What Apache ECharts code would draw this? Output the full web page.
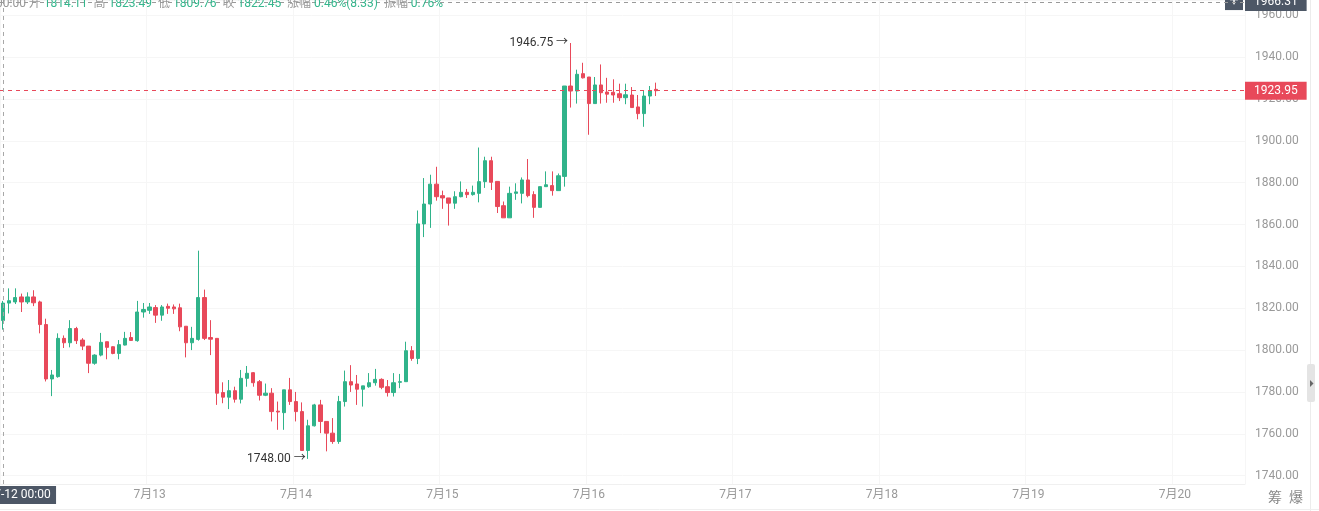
<!DOCTYPE html>
<html><head><meta charset="utf-8">
<script src="https://cdn.jsdelivr.net/npm/echarts@6/dist/echarts.min.js"></script>
<style>html,body{margin:0;padding:0;background:#fff;overflow:hidden}#c{width:1319px;height:511px}</style>
</head><body><div id="c"></div>
<script>
// ---- data ----
const dayLabels = ['7月12','7月13','7月14','7月15','7月16','7月17','7月18','7月19','7月20'];
const dayDates  = ['07-12','07-13','07-14','07-15','07-16','07-17','07-18','07-19','07-20'];
const totalHours = 204; // visible hourly slots on the time axis
// [open, close, low, high], hourly from 07-12 00:00
const candles = [
[1814.11,1822.45,1809.76,1823.49],[1822.45,1823.6,1817.5,1829.5],[1823.0,1825.1,1822.0,1829.5],[1825.4,1823.0,1818.2,1827.0],
[1823.0,1825.4,1822.0,1827.6],[1825.4,1822.6,1821.0,1828.6],[1823.0,1812.2,1808.0,1823.6],[1812.2,1786.2,1785.0,1815.0],
[1786.2,1788.1,1778.0,1790.5],[1787.3,1805.6,1786.8,1808.0],[1805.6,1803.5,1801.0,1807.0],[1803.5,1810.3,1801.3,1814.3],
[1810.3,1804.5,1802.9,1811.1],[1804.8,1801.9,1800.0,1805.7],[1801.9,1793.7,1789.0,1801.9],[1793.7,1797.6,1793.0,1798.0],
[1797.6,1803.7,1797.0,1808.2],[1804.0,1801.3,1795.6,1804.0],[1801.6,1798.4,1798.0,1801.8],[1798.4,1802.6,1795.6,1804.8],
[1802.4,1805.6,1802.2,1808.7],[1806.0,1804.6,1804.4,1808.6],[1804.5,1818.2,1804.0,1823.5],[1818.2,1819.4,1815.5,1822.5],
[1819.0,1820.6,1817.3,1822.5],[1820.3,1816.7,1813.0,1821.5],[1816.7,1820.6,1814.0,1821.5],[1820.9,1820.0,1817.3,1822.2],
[1820.6,1819.7,1817.3,1821.8],[1820.2,1811.1,1809.0,1822.2],[1811.4,1803.5,1796.5,1811.4],[1803.5,1805.6,1800.0,1811.1],
[1805.1,1825.1,1804.5,1847.5],[1825.1,1805.6,1804.8,1828.9],[1806.0,1805.2,1797.6,1814.3],[1805.6,1779.4,1773.8,1805.6],
[1779.7,1777.5,1774.6,1784.6],[1777.5,1780.6,1771.8,1785.7],[1780.6,1776.5,1774.9,1782.5],[1776.5,1786.5,1774.5,1790.5],
[1786.5,1788.9,1782.5,1792.4],[1789.2,1784.4,1782.5,1789.5],[1784.9,1778.4,1775.9,1785.7],[1778.4,1779.4,1778.0,1784.0],
[1779.4,1770.6,1765.9,1781.8],[1770.8,1770.4,1761.9,1775.4],[1770.1,1781.0,1761.9,1781.0],[1781.0,1775.4,1773.8,1786.7],
[1775.4,1770.6,1765.9,1780.0],[1770.6,1752.0,1752.0,1775.0],[1752.0,1763.8,1748.0,1766.7],[1763.8,1773.8,1763.5,1774.3],
[1773.8,1765.9,1760.3,1776.2],[1765.9,1760.3,1751.6,1765.9],[1760.3,1756.3,1755.2,1767.5],[1756.3,1775.4,1755.2,1778.1],
[1775.4,1784.9,1773.0,1790.2],[1784.9,1783.3,1780.0,1792.8],[1783.8,1781.3,1773.8,1788.1],[1781.3,1782.9,1773.0,1782.9],
[1782.5,1784.4,1782.0,1789.0],[1784.4,1786.0,1783.0,1791.0],[1786.0,1782.2,1781.3,1786.5],[1782.5,1779.7,1777.8,1785.7],
[1779.7,1784.4,1777.8,1789.0],[1784.6,1784.9,1781.8,1788.6],[1784.9,1799.7,1784.9,1804.0],[1799.7,1796.0,1794.9,1801.9],
[1796.0,1860.3,1793.3,1866.7],[1860.3,1869.8,1854.0,1882.2],[1869.8,1879.3,1858.4,1883.8],[1879.3,1873.3,1871.4,1887.6],
[1873.8,1872.7,1867.5,1876.2],[1872.7,1870.2,1859.5,1872.7],[1870.2,1873.3,1867.5,1875.9],[1873.3,1875.4,1873.0,1880.6],
[1875.4,1874.3,1872.7,1877.0],[1874.3,1875.4,1873.8,1878.6],[1874.9,1880.5,1870.6,1896.8],[1880.5,1890.5,1877.5,1892.4],
[1890.5,1880.2,1876.5,1892.4],[1880.6,1868.6,1865.5,1880.6],[1869.0,1863.2,1863.2,1871.0],[1863.2,1874.9,1863.2,1878.1],
[1874.9,1875.6,1871.8,1879.7],[1874.9,1881.3,1870.1,1882.5],[1881.3,1873.8,1873.0,1891.3],[1874.3,1868.2,1863.2,1875.9],
[1868.2,1878.1,1868.2,1878.1],[1878.1,1879.0,1878.0,1885.4],[1878.6,1876.2,1873.8,1885.4],[1876.2,1883.3,1876.2,1884.4],
[1883.0,1926.2,1878.1,1926.2],[1926.2,1923.8,1915.9,1946.75],[1923.8,1931.8,1917.8,1934.0],[1932.1,1930.1,1929.8,1937.3],
[1930.5,1917.8,1902.9,1930.5],[1917.8,1926.7,1917.8,1930.5],[1926.7,1923.0,1917.8,1936.5],[1923.3,1922.3,1918.2,1930.1],
[1923.2,1921.9,1918.2,1929.4],[1922.5,1920.6,1919.0,1927.3],[1920.6,1922.0,1917.5,1927.3],[1921.9,1915.9,1915.9,1925.7],
[1916.2,1913.0,1910.3,1921.9],[1913.0,1921.4,1906.7,1923.8],[1921.4,1923.8,1917.5,1926.2],[1924.6,1923.95,1921.4,1927.8]
];
const crosshairValue = 1966.31;
const crosshairTime = '07-12 00:00';
const headerParts = [['t','00:00 '],['l','开 '],['v','1814.11  '],['l','高 '],['v','1823.49  '],['l','低 '],['v','1809.76  '],
  ['l','收 '],['v','1822.45  '],['l','涨幅 '],['v','0.46%(8.33)  '],['l','振幅 '],['v','0.76%']];

// ---- build ----
const categories = [];
for (let i = 0; i < totalHours; i++) {
  const d = Math.floor(i / 24), h = i % 24;
  categories.push(dayDates[d] + ' ' + String(h).padStart(2, '0') + ':00');
}
const lastClose = candles[candles.length - 1][1];
const UP = '#30b38a', DOWN = '#e8495a', DARK = '#4d5766';
const FONT = 'Roboto, "Noto Sans CJK SC", sans-serif';

const chart = echarts.init(document.getElementById('c'), null, {renderer: 'canvas'});
const option = {
  animation: false,
  backgroundColor: '#fff',
  textStyle: {fontFamily: FONT},
  grid: {left: 0, right: 74, top: 0, bottom: 27, outerBoundsMode: 'none', containLabel: false},
  xAxis: {
    type: 'category', data: categories, boundaryGap: true,
    axisLine: {show: true, lineStyle: {color: '#f0f0f0'}},
    axisTick: {show: false},
    axisLabel: {
      interval: (idx) => idx > 0 && idx % 24 === 0,
      formatter: (v, idx) => dayLabels[Math.floor(idx / 24)],
      color: '#999', fontSize: 12, margin: 5, fontFamily: FONT
    },
    splitLine: {show: true, interval: (idx) => idx % 24 === 0, lineStyle: {color: '#f6f6f6'}}
  },
  yAxis: {
    type: 'value', position: 'right', scale: true,
    min: 1736, max: 1967.3, minInterval: 20, maxInterval: 20,
    axisLine: {show: false}, axisTick: {show: false},
    axisLabel: {
      color: '#999', fontSize: 12, margin: 10, fontFamily: FONT,
      formatter: (v) => (Math.abs(v % 20) < 1e-6 ? v.toFixed(2) : '')
    },
    splitLine: {show: true, lineStyle: {color: '#f6f6f6'}}
  },
  series: [{
    type: 'candlestick', data: candles, barWidth: 3.8, clip: false,
    itemStyle: {color: UP, color0: DOWN, borderColor: UP, borderColor0: DOWN, borderWidth: 1},
    markPoint: {
      symbol: 'circle', symbolSize: 1, itemStyle: {color: 'rgba(0,0,0,0)'},
      label: {show: true, position: 'left', distance: 2, color: '#333', fontSize: 12, fontFamily: FONT,
        formatter: (p) => Number(p.value).toFixed(2) + ' →'},
      data: [{type: 'max', valueDim: 'highest'}, {type: 'min', valueDim: 'lowest'}]
    },
    markLine: {
      symbol: ['none', 'none'], silent: true, animation: false,
      data: [
        {yAxis: lastClose, lineStyle: {color: DOWN, type: [4, 4], width: 1},
          label: {show: true, position: 'end', distance: 0, formatter: lastClose.toFixed(2), color: '#fff',
            backgroundColor: DOWN, padding: [2, 9], fontSize: 12, lineHeight: 14, fontFamily: FONT}},
        {yAxis: crosshairValue, lineStyle: {color: '#9a9a9a', type: [4, 4], width: 1},
          label: {show: true, position: 'end', distance: 0, formatter: crosshairValue.toFixed(2), color: '#fff',
            backgroundColor: DARK, padding: [2, 9], fontSize: 12, lineHeight: 14, fontFamily: FONT}},
        {xAxis: categories[0], lineStyle: {color: '#a8a8a8', type: [4, 4], width: 1}, label: {show: false}}
      ]
    }
  }]
};
chart.setOption(option);

// decorations positioned from the axes
const pBottom = chart.convertToPixel({seriesIndex: 0}, [categories[0], 1736]);
const pCross = chart.convertToPixel({seriesIndex: 0}, [categories[0], crosshairValue]);
const gridRight = 1319 - 74;
const rich = {
  t: {fill: '#999', fontSize: 12, fontFamily: FONT},
  l: {fill: '#999', fontSize: 12, fontFamily: FONT},
  v: {fill: '#35b68d', fontSize: 12, fontFamily: FONT}
};
const headerText = headerParts.map(p => '{' + p[0] + '|' + p[1] + '}').join('');
chart.setOption({
  graphic: [
    {type: 'text', x: -4, y: 3.5, z: 50, style: {text: headerText, rich: rich, verticalAlign: 'middle', align: 'left'}},
    {type: 'group', z: 60, children: [
      {type: 'rect', shape: {x: pCross[0] - 21, y: pBottom[1] + 2, width: 74, height: 18}, style: {fill: DARK}},
      {type: 'text', x: pCross[0] + 16, y: pBottom[1] + 11, style: {text: crosshairTime, fill: '#fff', fontSize: 12,
        fontFamily: FONT, align: 'center', verticalAlign: 'middle'}}
    ]},
    {type: 'group', z: 60, children: [
      {type: 'rect', shape: {x: gridRight - 20, y: pCross[1] - 10, width: 18, height: 18}, style: {fill: DARK}},
      {type: 'text', x: gridRight - 11, y: pCross[1] - 1, style: {text: '+', fill: '#fff', fontSize: 16,
        fontFamily: FONT, align: 'center', verticalAlign: 'middle'}}
    ]},
    {type: 'text', x: 1268, y: 497, style: {text: '筹', fill: '#888', fontSize: 14, fontFamily: '"Noto Sans CJK SC"', verticalAlign: 'middle'}},
    {type: 'text', x: 1289, y: 497, style: {text: '爆', fill: '#888', fontSize: 14, fontFamily: '"Noto Sans CJK SC"', verticalAlign: 'middle'}},
    {type: 'line', shape: {x1: 1310.5, y1: 0, x2: 1310.5, y2: 511}, style: {stroke: '#ececec', lineWidth: 1}},
    {type: 'line', shape: {x1: 0, y1: 509.5, x2: 1319, y2: 509.5}, style: {stroke: '#efefef', lineWidth: 1}},
    {type: 'rect', shape: {x: 1307, y: 364, width: 8, height: 38, r: 2}, style: {fill: '#e4e4e4'}},
    {type: 'polygon', shape: {points: [[1310, 380], [1310, 387], [1313.5, 383.5]]}, style: {fill: '#666'}}
  ]
});
</script></body></html>
